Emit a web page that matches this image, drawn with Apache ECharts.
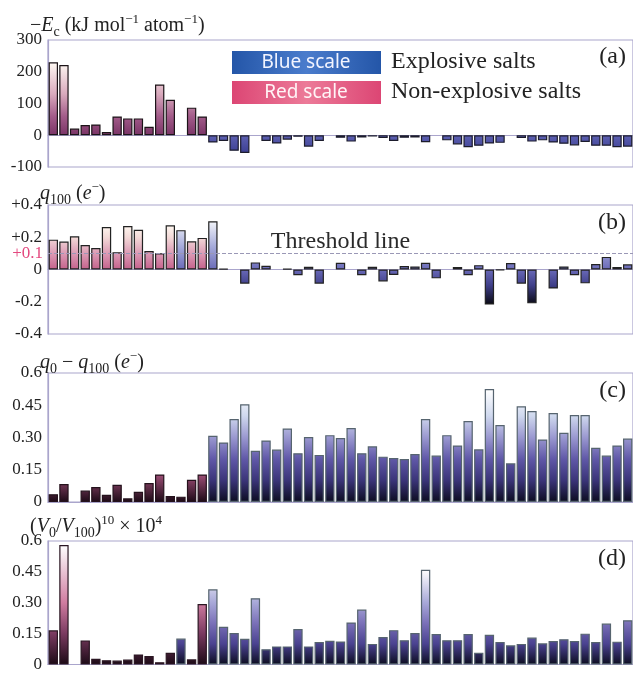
<!DOCTYPE html>
<html>
<head>
<meta charset="utf-8">
<script src="https://cdn.jsdelivr.net/npm/echarts@6/dist/echarts.min.js"></script>
<style>
html,body{margin:0;padding:0;background:#fff;}
#chart{width:633px;height:673px;}
</style>
</head>
<body>
<div id="chart"></div>
<script>
// ---------------- DATA ----------------
const categories = ['1','2','3','4','5','6','7','8','9','10','11','12','13','14','15','16','17','18','19','20',
  '21','22','23','24','25','26','27','28','29','30','31','32','33','34','35','36','37','38','39','40',
  '41','42','43','44','45','46','47','48','49','50','51','52','53','54','55'];

// (a) -Ec (kJ mol-1 atom-1)
const ecValues = [230,221,21,32,34,10,59,53,53,27,160,112,null,87,59,
  -23,-18,-49,-56,null,-18,-26,-14,-5,-36,
  -18,null,-8,-20,-7,-4,-9,-18,-8,-7,
  -22,null,-16,-29,-38,-33,-26,-24,null,-9,
  -20,-16,-23,-27,-32,-21,-33,-33,-38,-36];
// (b) q100 (e-)
const q100Values = [0.185,0.173,0.206,0.152,0.133,0.263,0.107,0.269,0.246,0.114,0.101,0.274,0.244,0.175,0.196,0.299,
  0.004,null,-0.088,0.044,0.023,null,0.004,-0.036,0.017,-0.088,
  null,0.042,null,-0.036,0.017,-0.074,-0.034,0.021,0.019,0.042,
  -0.055,null,0.015,-0.036,0.027,-0.217,-0.004,0.040,-0.088,-0.210,
  null,-0.118,0.019,-0.036,-0.086,0.034,0.078,0.015,0.032];
// (c) q0 - q100 (e-)
const dqValues = [0.036,0.084,null,0.053,0.070,0.034,0.080,0.017,0.048,0.088,0.128,0.028,0.025,0.103,0.128,
  0.308,0.277,0.386,0.455,0.238,0.286,0.244,0.342,0.227,0.302,
  0.219,0.311,0.298,0.344,0.227,0.259,0.211,0.205,0.200,0.223,
  0.386,0.216,0.311,0.263,0.377,0.245,0.525,0.358,0.180,0.445,
  0.423,0.291,0.414,0.322,0.405,0.405,0.252,0.216,0.263,0.295];
// (d) (V0/V100)^10 x 10^4
const vrValues = [0.166,0.580,null,0.117,0.028,0.021,0.019,0.024,0.049,0.041,0.011,0.057,0.126,0.025,0.294,
  0.365,0.183,0.153,0.125,0.322,0.074,0.088,0.088,0.172,0.088,
  0.109,0.115,0.112,0.204,0.267,0.100,0.133,0.167,0.118,0.153,
  0.460,0.148,0.118,0.118,0.148,0.057,0.144,0.109,0.093,0.100,
  0.131,0.103,0.114,0.123,0.114,0.150,0.109,0.199,0.111,0.215];

// indices drawn with the red (non-explosive) scale in each panel
const redIdxA = [0,1,2,3,4,5,6,7,8,9,10,11,12,13,14];
const redIdxB = [0,1,2,3,4,5,6,7,8,9,10,11,13,14];
const redIdxC = [0,1,2,3,4,5,6,7,8,9,10,11,12,13,14];
const redIdxD = [0,1,2,3,4,5,6,7,8,9,10,11,13,14];

const ticksA = [-100, 0, 100, 200, 300];
const ticksB = [-0.4, -0.2, 0, 0.2, 0.4];
const ticksCD = [0, 0.15, 0.30, 0.45, 0.6];
const threshold = 0.1;

// ---------------- STYLE ----------------
const SERIF = '"Liberation Serif","Times New Roman",serif';
const frame = '#aaa5cc';
const scales = [
  { red: [[0,'#7a3466'],[60,'#a35c8a'],[130,'#d9aabd'],[230,'#fffaf4']],
    blue: [[-56,'#3c3f92'],[0,'#5d60b2']], bRed:'#1c1418', bBlue:'#1c1c2c' },
  { red: [[0,'#c4628c'],[0.1,'#dc9bb5'],[0.2,'#f3dad8'],[0.28,'#fffaf2']],
    blue: [[-0.22,'#08080f'],[-0.1,'#3e3e88'],[0,'#6a6ab8'],[0.15,'#a9aedc'],[0.3,'#f4f6fa']], bRed:'#222', bBlue:'#222' },
  { red: [[0,'#1c0a16'],[0.13,'#a05078']],
    blue: [[0,'#0c0c20'],[0.1,'#3a3478'],[0.2,'#6058a8'],[0.3,'#9a98d0'],[0.4,'#cfd8ee'],[0.52,'#ffffff']], bRed:'#24121c', bBlue:'#56646f' },
  { red: [[0,'#1c0a16'],[0.15,'#7a3a60'],[0.3,'#d07ca0'],[0.58,'#ffffff']],
    blue: [[0,'#0c0c20'],[0.1,'#4a4290'],[0.2,'#7a70b8'],[0.3,'#a8a8d8'],[0.46,'#ffffff']], bRed:'#2a1622', bBlue:'#56646f' }
];

const panels = [
  { vals: ecValues, red: redIdxA, min: -100, max: 300, interval: 100, top: 40, height: 127,
    fmt: v => String(Math.round(v)) },
  { vals: q100Values, red: redIdxB, min: -0.4, max: 0.4, interval: 0.2, top: 205, height: 129,
    fmt: v => { const r = Math.round(v*10)/10; return r > 0 ? '+' + r.toFixed(1) : (r === 0 ? '0' : r.toFixed(1)); } },
  { vals: dqValues, red: redIdxC, min: 0, max: 0.6, interval: 0.15, top: 373, height: 129,
    fmt: v => { const r = Math.round(v*100)/100; return r === 0 ? '0' : (r === 0.6 ? '0.6' : r.toFixed(2)); } },
  { vals: vrValues, red: redIdxD, min: 0, max: 0.6, interval: 0.15, top: 541, height: 127,
    fmt: v => { const r = Math.round(v*100)/100; return r === 0 ? '0' : (r === 0.6 ? '0.6' : r.toFixed(2)); } }
];

const grids = [], xAxes = [], yAxes = [], series = [];
panels.forEach((p, i) => {
  grids.push({ left: 48, right: 0, top: p.top, height: p.height, show: true,
    borderColor: frame, borderWidth: 1.2, backgroundColor: 'transparent' });
  xAxes.push({ type: 'category', gridIndex: i, data: categories,
    axisLine: { show: true, onZero: true, lineStyle: { color: frame, width: 1.2 } },
    axisTick: { show: false }, axisLabel: { show: false }, splitLine: { show: false } });
  yAxes.push({ type: 'value', gridIndex: i, min: p.min, max: p.max, interval: p.interval,
    axisLine: { show: true, lineStyle: { color: frame, width: 1.2 } },
    axisTick: { show: false }, splitLine: { show: false },
    axisLabel: { color: '#222', fontFamily: SERIF, fontSize: 17, margin: 6, formatter: p.fmt } });
  const redData = p.vals.map((v, k) => p.red.includes(k) ? v : null);
  const blueData = p.vals.map((v, k) => p.red.includes(k) ? null : v);
  const common = { type: 'bar', xAxisIndex: i, yAxisIndex: i, barGap: '-100%', barCategoryGap: '12%', silent: true };
  series.push(Object.assign({}, common, { name: 'red' + i, data: redData,
    itemStyle: { color: '#b06090', borderColor: scales[i].bRed, borderWidth: 1.2 } }));
  const blue = Object.assign({}, common, { name: 'blue' + i, data: blueData,
    itemStyle: { color: '#6060b0', borderColor: scales[i].bBlue, borderWidth: 1.2 } });
  if (i === 1) {
    blue.markLine = { silent: true, symbol: 'none', animation: false,
      lineStyle: { type: 'dashed', color: '#9a98b6', width: 1 },
      data: [
        { yAxis: threshold, label: { show: true, position: 'start', formatter: '+0.1', color: '#e3487e',
          fontFamily: SERIF, fontSize: 17, distance: 5 } },
        { yAxis: threshold, label: { show: true, position: 'insideMiddleTop', formatter: 'Threshold line',
          color: '#2a2a2a', fontFamily: SERIF, fontSize: 24, distance: 0 } }
      ] };
  }
  series.push(blue);
});

const titleRich = {
  m: { fontFamily: SERIF, fontSize: 20, lineHeight: 26, color: '#222' },
  i: { fontFamily: SERIF, fontSize: 20, fontStyle: 'italic', lineHeight: 26, color: '#222' },
  s: { fontFamily: SERIF, fontSize: 14, lineHeight: 14, verticalAlign: 'bottom', color: '#222' },
  p: { fontFamily: SERIF, fontSize: 13, lineHeight: 13, verticalAlign: 'top', color: '#222' }
};
function title(x, y, text) {
  return { type: 'text', left: x, top: y - 13, silent: true,
    style: { text: text, rich: titleRich, fill: '#222' } };
}
function letter(y, t) {
  return { type: 'text', right: 7, top: y - 13, silent: true,
    style: { text: t, fill: '#222', font: '24px ' + SERIF } };
}
const graphic = [
  title(30, 26, '{m|−}{i|E}{s|c}{m| (kJ mol}{p|−1}{m| atom}{p|−1}{m|)}'),
  title(40, 194, '{i|q}{s|100}{m| (}{i|e}{p|−}{m|)}'),
  title(40, 363, '{i|q}{s|0}{m| − }{i|q}{s|100}{m| (}{i|e}{p|−}{m|)}'),
  title(30, 527, '{m|(}{i|V}{s|0}{m|/}{i|V}{s|100}{m|)}{p|10}{m| × 10}{p|4}'),
  letter(58, '(a)'), letter(224, '(b)'), letter(392, '(c)'), letter(560, '(d)'),
  { type: 'rect', left: 232, top: 51, silent: true, shape: { width: 149, height: 23 },
    style: { fill: new echarts.graphic.LinearGradient(0, 0, 1, 0, [
      { offset: 0, color: '#2456a8' }, { offset: 0.5, color: '#4a7ccc' }, { offset: 1, color: '#2456a8' }]) } },
  { type: 'text', x: 306, y: 62.5, silent: true,
    style: { text: 'Blue scale', fill: '#f2f4ff', font: '19px "Noto Sans", sans-serif', textAlign: 'center', textVerticalAlign: 'middle' } },
  { type: 'rect', left: 232, top: 81, silent: true, shape: { width: 149, height: 23 },
    style: { fill: new echarts.graphic.LinearGradient(0, 0, 1, 0, [
      { offset: 0, color: '#dc4674' }, { offset: 0.5, color: '#ec7a98' }, { offset: 1, color: '#dc4674' }]) } },
  { type: 'text', x: 306, y: 92.5, silent: true,
    style: { text: 'Red scale', fill: '#fff4f6', font: '19px "Noto Sans", sans-serif', textAlign: 'center', textVerticalAlign: 'middle' } },
  { type: 'text', left: 391, top: 50, silent: true,
    style: { text: 'Explosive salts', fill: '#222', font: '24px ' + SERIF } },
  { type: 'text', left: 391, top: 80, silent: true,
    style: { text: 'Non-explosive salts', fill: '#222', font: '24px ' + SERIF } }
];

const chart = echarts.init(document.getElementById('chart'), null, { renderer: 'canvas' });
chart.setOption({ animation: false, backgroundColor: '#fff', grid: grids, xAxis: xAxes, yAxis: yAxes, series: series, graphic: graphic });

// global vertical gradients mapped through each panel's value axis
function grad(axis, stops) {
  const ps = stops.map(s => [chart.convertToPixel({ yAxisIndex: axis }, s[0]), s[1]]);
  const ys = ps.map(s => s[0]);
  const y0 = Math.min.apply(null, ys), y1 = Math.max.apply(null, ys);
  const cs = ps.map(s => ({ offset: (s[0] - y0) / (y1 - y0), color: s[1] })).sort((a, b) => a.offset - b.offset);
  return new echarts.graphic.LinearGradient(0, y0, 0, y1, cs, true);
}
const upd = [];
panels.forEach((p, i) => {
  upd.push({ itemStyle: { color: grad(i, scales[i].red) } });
  upd.push({ itemStyle: { color: grad(i, scales[i].blue) } });
});
chart.setOption({ series: upd });
</script>
</body>
</html>
